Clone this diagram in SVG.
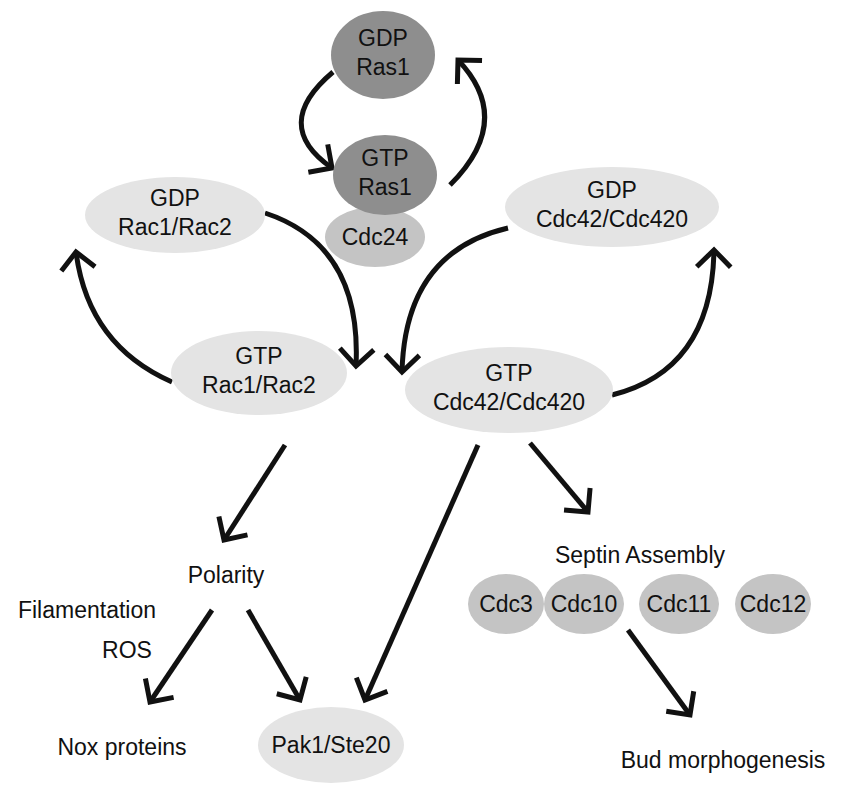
<svg xmlns="http://www.w3.org/2000/svg" width="851" height="800" viewBox="0 0 851 800">
<style>
text{font-family:"Liberation Sans",Arial,sans-serif;font-size:23px;fill:#111;text-anchor:middle}
.dk{fill:#8e8e8e}.md{fill:#c4c4c4}.lt{fill:#e4e4e4}
.c path,.c line{stroke:#111;stroke-width:5;fill:none;marker-end:url(#a)}
</style>
<defs>
<marker id="a" markerUnits="userSpaceOnUse" markerWidth="44" markerHeight="44" refX="22" refY="22" orient="auto" viewBox="0 0 44 44">
<polyline points="5,5 22,22 5,39" fill="none" stroke="#111" stroke-width="5"/>
</marker>
</defs>
<rect width="851" height="800" fill="#fff"/>
<g class="c" id="connectors">
<path d="M333,72 Q270,125 332,168"/>
<path d="M450,185 Q515,120 458,60"/>
<path d="M265,213 Q362,245 356,366"/>
<path d="M172,382 Q88,345 76,252"/>
<path d="M508,228 Q405,252 402,372"/>
<path d="M612,395 Q712,370 714,250"/>
<line x1="285" y1="445" x2="224" y2="540"/>
<line x1="478" y1="445" x2="365" y2="700"/>
<line x1="530" y1="443" x2="588" y2="512"/>
<line x1="212" y1="610" x2="150" y2="702"/>
<line x1="248" y1="610" x2="300" y2="700"/>
<line x1="628" y1="630" x2="690" y2="715"/>
</g>
<g id="gdp-ras1"><ellipse class="dk" cx="383" cy="55" rx="52" ry="44"/><text x="383" y="46">GDP</text><text x="383" y="75">Ras1</text></g>
<g id="cdc24"><ellipse class="md" cx="375" cy="237" rx="50" ry="30"/><text x="375" y="245">Cdc24</text></g>
<g id="gtp-ras1"><ellipse class="dk" cx="385" cy="175" rx="52" ry="40"/><text x="385" y="166">GTP</text><text x="385" y="195">Ras1</text></g>
<g id="gdp-rac"><ellipse class="lt" cx="175" cy="215" rx="90" ry="38"/><text x="175" y="206">GDP</text><text x="175" y="235">Rac1/Rac2</text></g>
<g id="gdp-cdc42"><ellipse class="lt" cx="612" cy="207" rx="107" ry="40"/><text x="612" y="198">GDP</text><text x="612" y="227">Cdc42/Cdc420</text></g>
<g id="gtp-rac"><ellipse class="lt" cx="259" cy="373" rx="88" ry="42"/><text x="259" y="364">GTP</text><text x="259" y="393">Rac1/Rac2</text></g>
<g id="gtp-cdc42"><ellipse class="lt" cx="509" cy="390" rx="104" ry="43"/><text x="509" y="381">GTP</text><text x="509" y="410">Cdc42/Cdc420</text></g>
<g id="septin"><text x="640" y="563">Septin Assembly</text></g>
<g id="cdc3"><ellipse class="md" cx="506" cy="604" rx="38" ry="30"/><text x="506" y="612">Cdc3</text></g>
<g id="cdc10"><ellipse class="md" cx="584" cy="604" rx="40" ry="30"/><text x="584" y="612">Cdc10</text></g>
<g id="cdc11"><ellipse class="md" cx="679" cy="604" rx="40" ry="30"/><text x="679" y="612">Cdc11</text></g>
<g id="cdc12"><ellipse class="md" cx="773" cy="604" rx="38" ry="30"/><text x="773" y="612">Cdc12</text></g>
<g id="pak1"><ellipse class="lt" cx="331" cy="745" rx="73" ry="38"/><text x="331" y="753">Pak1/Ste20</text></g>
<g id="polarity"><text x="226" y="583">Polarity</text></g>
<g id="filamentation"><text x="87" y="618">Filamentation</text></g>
<g id="ros"><text x="127" y="658">ROS</text></g>
<g id="nox"><text x="122" y="755">Nox proteins</text></g>
<g id="bud"><text x="723" y="768">Bud morphogenesis</text></g>
</svg>
